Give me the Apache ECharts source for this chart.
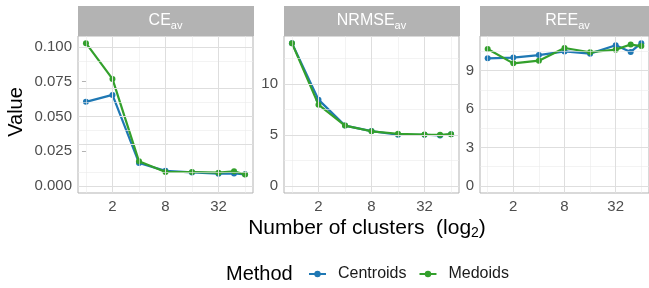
<!DOCTYPE html>
<html>
<head>
<meta charset="utf-8">
<script src="https://cdn.jsdelivr.net/npm/echarts@6/dist/echarts.min.js"></script>
<style>
html,body{margin:0;padding:0;background:#fff;}
#main{width:649px;height:288px;}
</style>
</head>
<body>
<div id="main"></div>
<script>
// number of clusters (drawn on a log2 axis)
var clusters = [1, 2, 4, 8, 16, 32, 48, 64];
var xTickLabels = [2, 8, 32];
var xMinorLines = [1, 4, 16, 64];
var methods = ['Centroids', 'Medoids'];

// CE_av
var ceCentroids = [0.0605, 0.0655, 0.0165, 0.0108, 0.0097, 0.0088, 0.0089, 0.0083];
var ceMedoids   = [0.1028, 0.0770, 0.0177, 0.0100, 0.0100, 0.0095, 0.0105, 0.0082];
var ceTicks = [0, 0.025, 0.05, 0.075, 0.1];
var ceMinor = [0.0125, 0.0375, 0.0625, 0.0875];

// NRMSE_av
var nrmseCentroids = [14.02, 8.47, 5.92, 5.38, 5.02, 5.02, 4.95, 5.07];
var nrmseMedoids   = [14.02, 7.98, 5.92, 5.36, 5.12, 5.04, 5.02, 5.08];
var nrmseTicks = [0, 5, 10];
var nrmseMinor = [2.5, 7.5, 12.5];

// REE_av
var reeCentroids = [9.96, 10.02, 10.22, 10.50, 10.33, 10.98, 10.46, 11.15];
var reeMedoids   = [10.69, 9.57, 9.78, 10.77, 10.44, 10.64, 11.04, 10.92];
var reeTicks = [0, 3, 6, 9];
var reeMinor = [1.5, 4.5, 7.5, 10.5];

var colors = ['#1F78B4', '#33A02C'];
var font = 'Liberation Sans, Arial, sans-serif';
var gridLine = '#DEDEDE';
var minorLine = '#EBEBEB';
var frame = '#B3B3B3';
var dot = 'path://M0,5A5,5 0 1,1 10,5A5,5 0 1,1 0,5Z';

var panels = [
	{name: 'CE', left: 78, data: [ceCentroids, ceMedoids], ticks: ceTicks, minor: ceMinor, digits: 3},
	{name: 'NRMSE', left: 284, data: [nrmseCentroids, nrmseMedoids], ticks: nrmseTicks, minor: nrmseMinor, digits: 0},
	{name: 'REE', left: 480, data: [reeCentroids, reeMedoids], ticks: reeTicks, minor: reeMinor, digits: 0}
];
var panelTop = 36, panelW = 175, panelH = 157, stripTop = 6;

var grids = [], xAxes = [], yAxes = [], series = [], graphics = [];

panels.forEach(function(p, i){
	var ymax = Math.max.apply(null, p.data[0].concat(p.data[1]));
	var pad = ymax * 0.05;
	var xt = xTickLabels.map(function(v){ return Math.log2(v); });

	grids.push({left: p.left, top: panelTop, width: panelW, height: panelH,
		show: true, borderColor: frame, borderWidth: 1, backgroundColor: 'transparent'});

	xAxes.push({
		type: 'value', gridIndex: i, min: -0.3, max: 6.3,
		axisLine: {show: false},
		axisTick: {show: true, customValues: xt, length: 4, lineStyle: {color: frame}},
		axisLabel: {customValues: xt, margin: 6, color: '#4D4D4D', fontSize: 15, fontFamily: font,
			formatter: function(v){ return String(Math.round(Math.pow(2, v))); }},
		splitLine: {show: false}
	});
	yAxes.push({
		type: 'value', gridIndex: i, min: -pad, max: ymax + pad,
		axisLine: {show: false},
		axisTick: {show: true, customValues: p.ticks, length: 4, lineStyle: {color: frame}},
		axisLabel: {customValues: p.ticks, margin: 6, color: '#4D4D4D', fontSize: 15, fontFamily: font,
			formatter: function(v){ return v.toFixed(p.digits); }},
		splitLine: {show: false}
	});

	// panel grid lines, major and minor
	var lines = [];
	p.minor.forEach(function(v){ lines.push({yAxis: v, lineStyle: {color: minorLine, width: 0.6}}); });
	xMinorLines.forEach(function(v){ lines.push({xAxis: Math.log2(v), lineStyle: {color: minorLine, width: 0.6}}); });
	p.ticks.forEach(function(v){ lines.push({yAxis: v, lineStyle: {color: gridLine, width: 1}}); });
	xTickLabels.forEach(function(v){ lines.push({xAxis: Math.log2(v), lineStyle: {color: gridLine, width: 1}}); });
	series.push({
		type: 'line', xAxisIndex: i, yAxisIndex: i, data: [], z: 1, silent: true,
		markLine: {symbol: 'none', silent: true, animation: false, label: {show: false},
			lineStyle: {type: 'solid'}, data: lines}
	});

	methods.forEach(function(m, k){
		series.push({
			name: m, type: 'line', xAxisIndex: i, yAxisIndex: i, z: 3 + k,
			data: clusters.map(function(c, j){ return [Math.log2(c), p.data[k][j]]; }),
			symbol: dot, symbolSize: 6, showSymbol: true,
			itemStyle: {color: colors[k], borderWidth: 0},
			lineStyle: {color: colors[k], width: 2.2}
		});
	});

	// strip
	graphics.push({type: 'rect', shape: {x: p.left, y: stripTop, width: panelW + 1, height: panelTop - stripTop},
		style: {fill: frame}});
	graphics.push({type: 'text', x: p.left + panelW / 2, y: (stripTop + panelTop) / 2,
		style: {text: '{m|' + p.name + '}{s|av}', align: 'center', verticalAlign: 'middle',
			rich: {m: {fontSize: 16, fill: '#fff', fontFamily: font, lineHeight: 20},
				s: {fontSize: 11, fill: '#fff', fontFamily: font, lineHeight: 10, verticalAlign: 'bottom'}}}});
});

graphics.push({type: 'text', x: 16, y: 112, rotation: Math.PI / 2,
	style: {text: 'Value', fontSize: 20, fill: '#000', fontFamily: font, align: 'center', verticalAlign: 'middle'}});
graphics.push({type: 'text', x: 367, y: 228,
	style: {text: '{m|Number of clusters  (log}{s|2}{m|)}', align: 'center', verticalAlign: 'middle',
		rich: {m: {fontSize: 21, fill: '#000', fontFamily: font, lineHeight: 24},
			s: {fontSize: 14, fill: '#000', fontFamily: font, lineHeight: 12, verticalAlign: 'bottom'}}}});
graphics.push({type: 'text', x: 226, y: 274,
	style: {text: 'Method', fontSize: 20, fill: '#000', fontFamily: font, align: 'left', verticalAlign: 'middle'}});

var chart = echarts.init(document.getElementById('main'));
chart.setOption({
	animation: false,
	grid: grids,
	xAxis: xAxes,
	yAxis: yAxes,
	legend: {
		data: methods, left: 308, top: 266, padding: 0, itemWidth: 17, itemHeight: 8, itemGap: 12,
		textStyle: {fontSize: 16, color: '#1A1A1A', fontFamily: font, padding: [0, 0, 0, 7]}
	},
	graphic: graphics,
	series: series
});
</script>
</body>
</html>
